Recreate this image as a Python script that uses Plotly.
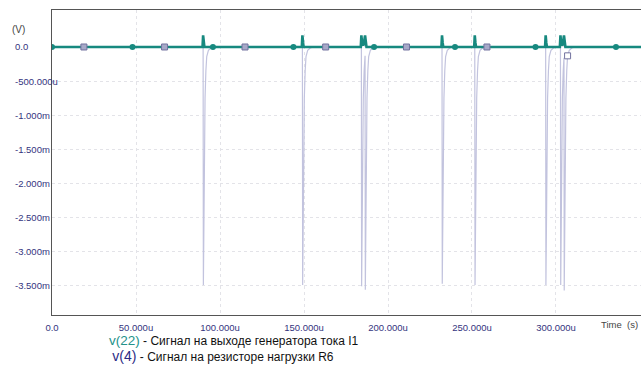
import plotly.graph_objects as go

# ---------------- data (time in µs, voltage in mV) ----------------
v4_time_us = [0, 89.95, 90.1, 90.7, 91.1, 91.6, 92.1, 93.1, 94.6, 96.6,
              149.05, 149.2, 149.8, 150.2, 150.7, 151.2, 152.2, 153.7, 155.7,
              184.15, 184.3, 184.9, 185.3, 185.8, 186.35, 186.5, 187.1, 187.5, 188.0, 188.5, 189.5, 191.0, 193.0,
              232.15, 232.3, 232.9, 233.3, 233.8, 234.3, 235.3, 236.8, 238.8,
              251.65, 251.8, 252.4, 252.8, 253.3, 253.8, 254.8, 256.3, 258.3,
              293.85, 294.0, 294.6, 295.0, 295.5, 296.0, 297.0, 298.5, 300.5,
              302.65, 302.8, 303.4, 303.8, 304.3, 304.75, 304.9, 305.5, 305.9, 306.4, 306.9, 307.9, 309.4, 311.4,
              350.6]
v4_value_mv = [0, 0, -3.50, -1.6, -0.75, -0.35, -0.14, -0.05, -0.015, 0,
               0, -3.50, -1.6, -0.75, -0.35, -0.14, -0.05, -0.015, 0,
               0, -3.52, -1.6, -0.75, -0.35, -0.13, -3.57, -1.6, -0.75, -0.35, -0.14, -0.05, -0.015, 0,
               0, -3.48, -1.6, -0.75, -0.35, -0.14, -0.05, -0.015, 0,
               0, -3.50, -1.6, -0.75, -0.35, -0.14, -0.05, -0.015, 0,
               0, -3.50, -1.6, -0.75, -0.35, -0.14, -0.05, -0.015, 0,
               0, -3.50, -1.6, -0.75, -0.35, -0.16, -3.58, -1.6, -0.75, -0.35, -0.13, -0.05, -0.015, 0,
               0]

v22_time_us = [0, 89.6, 89.95, 90.35, 90.7,
               148.7, 149.05, 149.45, 149.8,
               183.8, 184.15, 184.6, 185.4, 186.35, 186.8, 187.2,
               231.8, 232.15, 232.55, 232.9,
               251.3, 251.65, 252.05, 252.4,
               293.5, 293.85, 294.25, 294.6,
               302.3, 302.65, 303.1, 303.9, 304.75, 305.2, 305.6,
               350.6]
v22_value_mv = [0, 0, 0.17, 0.06, 0,
                0, 0.17, 0.06, 0,
                0, 0.17, 0.05, 0.02, 0.17, 0.05, 0,
                0, 0.17, 0.06, 0,
                0, 0.17, 0.06, 0,
                0, 0.17, 0.06, 0,
                0, 0.17, 0.05, 0.02, 0.17, 0.05, 0,
                0]

v22_marker_time_us = [0, 47.9, 95.8, 143.7, 191.7, 239.9, 287.8, 335.7]
v22_marker_value_mv = [0, 0, 0, 0, 0, 0, 0, 0]

v4_marker_time_us = [19.0, 67.0, 114.9, 162.9, 211.0, 258.9, 306.9]
v4_marker_value_mv = [0, 0, 0, 0, 0, 0, -0.13]

x_tick_vals = [0, 50, 100, 150, 200, 250, 300]
x_tick_text = ["0.0", "50.000u", "100.000u", "150.000u", "200.000u", "250.000u", "300.000u"]
y_tick_vals = [0, -0.5, -1.0, -1.5, -2.0, -2.5, -3.0, -3.5]
y_tick_text = ["0.0", "-500.000u", "-1.000m", "-1.500m", "-2.000m", "-2.500m", "-3.000m", "-3.500m"]

# ---------------- styling ----------------
TEAL = "#17897f"
LAV = "#c2c3de"
TICK_COLOR = "#34347e"
FONT = "Liberation Sans, Arial, sans-serif"

W, H = 641, 365
ML, MR, MT, MB = 52, 0, 10, 50
PW, PH = W - ML - MR, H - MT - MB


def px_x(px):
    return (px - ML) / PW


def px_y(py):
    return (H - MB - py) / PH


fig = go.Figure()

fig.add_trace(go.Scatter(x=v4_time_us, y=v4_value_mv, mode="lines",
                         line=dict(color=LAV, width=1.2), hoverinfo="skip", showlegend=False))
fig.add_trace(go.Scatter(x=v22_time_us, y=v22_value_mv, mode="lines",
                         line=dict(color=TEAL, width=2.6), hoverinfo="skip", showlegend=False))
fig.add_trace(go.Scatter(x=v22_marker_time_us, y=v22_marker_value_mv, mode="markers",
                         marker=dict(symbol="circle", size=6, color=TEAL),
                         hoverinfo="skip", showlegend=False))
fig.add_trace(go.Scatter(x=v4_marker_time_us, y=v4_marker_value_mv, mode="markers",
                         marker=dict(symbol="square", size=6,
                                     color=["#a7a9c8"] * 6 + ["#ffffff"],
                                     line=dict(color="#72729f", width=1)),
                         hoverinfo="skip", showlegend=False))

grid = dict(showgrid=True, gridcolor="#e3e3e8", gridwidth=1, griddash="3px,3px", zeroline=False)

fig.update_xaxes(range=[0, 350.6], tickvals=x_tick_vals, ticktext=x_tick_text,
                 tickfont=dict(family=FONT, size=9.5, color=TICK_COLOR),
                 showline=True, linecolor="#555555", linewidth=1, mirror=True,
                 ticks="", ticklabelstandoff=4, **grid)
fig.update_yaxes(range=[-3.941, 0.544], tickvals=y_tick_vals, showticklabels=False,
                 showline=True, linecolor="#555555", linewidth=1, mirror=False,
                 ticks="", **grid)

annotations = []
for v, t in zip(y_tick_vals, y_tick_text):
    annotations.append(dict(x=px_x(13), xref="paper", y=v, yref="y", text=t,
                            showarrow=False, xanchor="left", yanchor="middle",
                            font=dict(family=FONT, size=9.5, color=TICK_COLOR)))

annotations.append(dict(x=px_x(10), xref="paper", y=px_y(30), yref="paper", text="(V)",
                        showarrow=False, xanchor="left", yanchor="middle",
                        font=dict(family=FONT, size=10, color="#444444")))
annotations.append(dict(x=px_x(599), xref="paper", y=px_y(324), yref="paper", text="Time  (s)",
                        showarrow=False, xanchor="left", yanchor="middle",
                        font=dict(family=FONT, size=9.5, color="#444444")))
legend_text = ('<span style="color:#24928a;font-size:13.5px">v(22)</span> - Сигнал на выходе генератора тока I1'
               '<br> <span style="color:#2b2b85;font-size:14px">v(4)</span> - Сигнал на резисторе нагрузки R6')
annotations.append(dict(x=px_x(108), xref="paper", y=px_y(348), yref="paper",
                        text=legend_text, align="left", borderpad=0,
                        showarrow=False, xanchor="left", yanchor="middle",
                        font=dict(family=FONT, size=12, color="#111111")))

fig.update_layout(width=W, height=H, margin=dict(l=ML, r=MR, t=MT, b=MB, pad=0),
                  paper_bgcolor="white", plot_bgcolor="white",
                  annotations=annotations, showlegend=False,
                  font=dict(family=FONT))

fig.write_html("out.html", config={"displayModeBar": False},
               post_script="document.body.style.margin='0';document.body.style.overflow='hidden';")
